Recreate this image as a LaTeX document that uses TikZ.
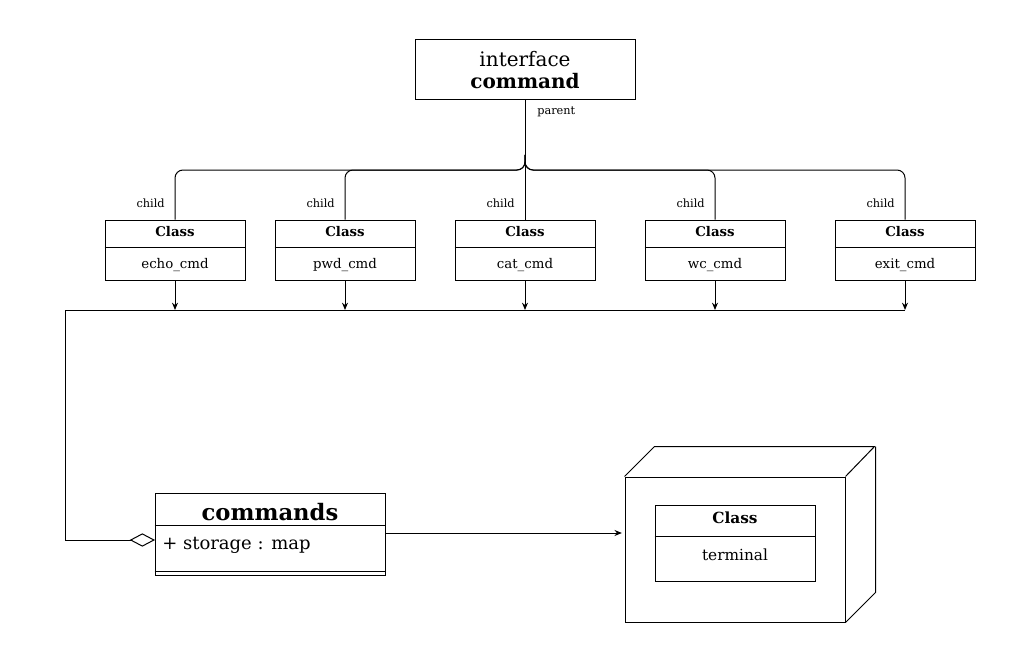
\documentclass[tikz,border=0pt]{standalone}
\usepackage{fontspec}
\setmainfont{DejaVu Serif}
\usetikzlibrary{arrows.meta}

\tikzset{
    box/.style={draw, line width=0.75pt, inner sep=0pt},
    lbl/.style={font=\fontsize{8.5}{10}\selectfont, inner sep=0pt},
    cls/.style={font=\fontsize{10}{12}\selectfont, inner sep=0pt},
    link/.style={line width=0.75pt, -{Stealth[length=5.5pt,width=4.5pt]}},
}

\begin{document}
\begin{tikzpicture}[x=0.75pt, y=-0.75pt]
    \useasboundingbox (0, 0) rectangle (1016, 663);
    % interface
    \node [box, minimum width=165pt, minimum height=45pt, align=center,
           font=\fontsize{15}{17.25}\selectfont] (iface) at (525, 70)
          {interface\\[-1pt]\textbf{command}};
    \node [lbl, anchor=west] (parent) at ([shift={(9pt,-8.25pt)}]iface.south) {parent};
    \coordinate (split) at (525, 170);
    \coordinate (bend) at (525, 155);
    % children
    \foreach \x/\n in {175/echo, 345/pwd, 525/cat, 715/wc, 905/exit} {
        \node [box, minimum width=105pt, minimum height=45pt] (\n) at (\x, 250) {};
        \draw [line width=0.75pt] ([yshift=-21pt]\n.north west) -- ([yshift=-21pt]\n.north east);
        \node [cls, font=\fontsize{10}{12}\selectfont\bfseries] (\n head) at (\x, 232) {Class};
        \node [cls] (\n name) at (\x, 265) {\n\_cmd};
        \node [lbl, anchor=east] (\n child) at ([shift={(-7.5pt,12pt)}]\n.north) {child};
    }
    \draw [line width=0.75pt] (iface.south) -- (cat.north);
    \foreach \n in {echo, pwd, wc, exit}
        \draw [line width=0.75pt, rounded corners=6pt] (bend) -- (split) -| (\n.north);
    % bus
    \coordinate (busL) at (65, 310);
    \coordinate (busR) at (905, 310);
    \foreach \n in {echo, pwd, cat, wc, exit}
        \draw [link] (\n.south) -- (\n.south |- busL);
    % commands
    \node [box, minimum width=172.5pt, minimum height=61.5pt] (cmds) at (270, 534) {};
    \draw [line width=0.75pt] ([yshift=-24.75pt]cmds.north west) -- ([yshift=-24.75pt]cmds.north east);
    \draw [line width=0.75pt] ([yshift=3pt]cmds.south west) -- ([yshift=3pt]cmds.south east);
    \node [inner sep=0pt, font=\fontsize{17}{20}\selectfont\bfseries] (cmdstitle) at (270, 512) {commands};
    \node [inner sep=0pt, anchor=west, font=\fontsize{13.5}{16}\selectfont] (storage) at (162, 545) {+ storage : map};
    \coordinate (aggin) at (155, 540);
    \draw [line width=0.75pt, -{Diamond[open, length=19pt, width=10pt]}] (busR) -- (busL) |- (aggin);
    % terminal node
    \node [box, minimum width=165pt, minimum height=108.75pt] (front) at (735, 549.5) {};
    \draw [line width=0.75pt] (front.north west) -- ++(30, -30) -- ++(220, 0) -- (front.north east);
    \draw [line width=0.75pt] ([shift={(22.5pt,22.5pt)}]front.north east) -- ([shift={(22.5pt,22.5pt)}]front.south east) -- (front.south east);
    \node [box, minimum width=120pt, minimum height=57pt] (term) at (735, 543) {};
    \draw [line width=0.75pt] ([yshift=-24pt]term.north west) -- ([yshift=-24pt]term.north east);
    \node [inner sep=0pt, font=\fontsize{11.5}{14}\selectfont\bfseries] (termhead) at (735, 518) {Class};
    \node [inner sep=0pt, font=\fontsize{11.5}{14}\selectfont] (termname) at (735, 555) {terminal};
    \draw [link, shorten >=2pt] (cmds.east |- 0, 533) -- (front.west |- 0, 533);
\end{tikzpicture}
\end{document}
